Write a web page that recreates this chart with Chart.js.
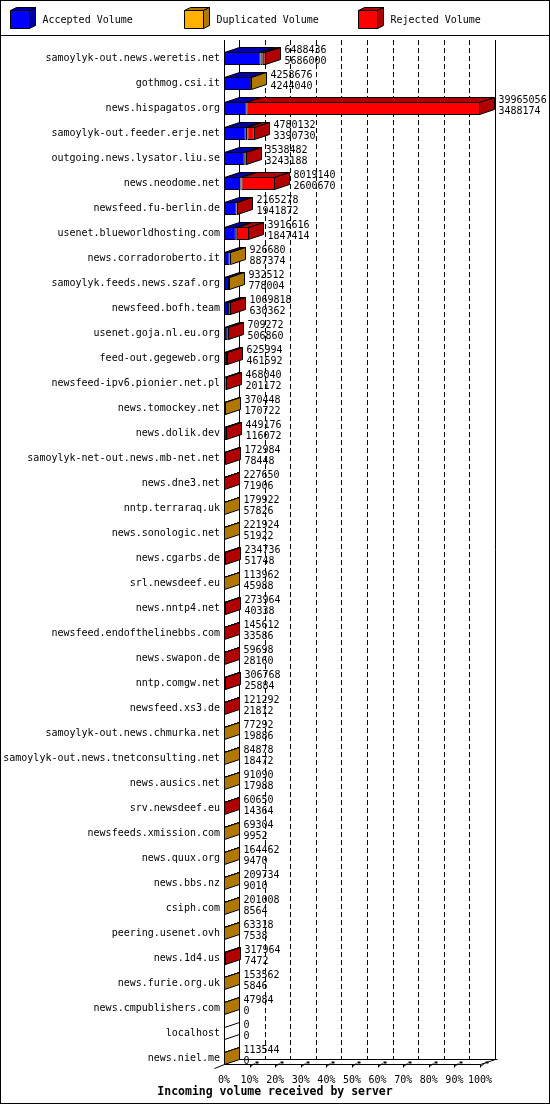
<!DOCTYPE html>
<html>
<head>
<meta charset="utf-8">
<title>Incoming volume received by server</title>
<script src="https://cdn.jsdelivr.net/npm/chart.js@4.4.1/dist/chart.umd.min.js"></script>
<style>
  html, body { margin: 0; padding: 0; background: #fff; }
  canvas { display: block; }
</style>
</head>
<body>
<canvas id="volume-chart" width="550" height="1105"></canvas>
<script>
// one row per feeding server, sorted by accepted volume
var servers = [
	'samoylyk-out.news.weretis.net', 'gothmog.csi.it', 'news.hispagatos.org',
	'samoylyk-out.feeder.erje.net', 'outgoing.news.lysator.liu.se', 'news.neodome.net',
	'newsfeed.fu-berlin.de', 'usenet.blueworldhosting.com', 'news.corradoroberto.it',
	'samoylyk.feeds.news.szaf.org', 'newsfeed.bofh.team', 'usenet.goja.nl.eu.org',
	'feed-out.gegeweb.org', 'newsfeed-ipv6.pionier.net.pl', 'news.tomockey.net',
	'news.dolik.dev', 'samoylyk-net-out.news.mb-net.net', 'news.dne3.net',
	'nntp.terraraq.uk', 'news.sonologic.net', 'news.cgarbs.de',
	'srl.newsdeef.eu', 'news.nntp4.net', 'newsfeed.endofthelinebbs.com',
	'news.swapon.de', 'nntp.comgw.net', 'newsfeed.xs3.de',
	'samoylyk-out.news.chmurka.net', 'samoylyk-out.news.tnetconsulting.net', 'news.ausics.net',
	'srv.newsdeef.eu', 'newsfeeds.xmission.com', 'news.quux.org',
	'news.bbs.nz', 'csiph.com', 'peering.usenet.ovh',
	'news.1d4.us', 'news.furie.org.uk', 'news.cmpublishers.com',
	'localhost', 'news.niel.me'
];

var totalVolume = [
	6488436, 4258676, 39965056, 4780132, 3538482, 8019140, 2165278, 3916616, 926680,
	932512, 1069818, 709272, 625994, 468040, 370448, 449176, 172984, 227650,
	179922, 221924, 234736, 113962, 273964, 145612, 59698, 306768, 121292,
	77292, 84878, 91090, 60650, 69304, 164462, 209734, 201008, 63318,
	317964, 153562, 47984, 0, 113544
];

var acceptedVolume = [
	5686000, 4244040, 3488174, 3390730, 3243188, 2600670, 1941872, 1847414, 887374,
	778004, 630362, 506860, 461592, 201172, 170722, 116072, 78448, 71906,
	57826, 51922, 51748, 45988, 40338, 33586, 28160, 25884, 21812,
	19886, 18472, 17988, 14364, 9952, 9470, 9010, 8564, 7538,
	7472, 5846, 0, 0, 0
];

// split of the remainder
var duplicatedVolume = [
	360000, 14636, 0, 260000, 150000, 130000, 0, 150000, 39306,
	154508, 0, 0, 0, 0, 199726, 0, 0, 0,
	122096, 170002, 0, 67974, 0, 0, 0, 0, 0,
	57406, 66406, 73102, 0, 59352, 154992, 200724, 192444, 55780,
	0, 147716, 47984, 0, 113544
];

var rejectedVolume = [
	442436, 0, 36476882, 1129402, 145294, 5288470, 223406, 1919202, 0,
	0, 439456, 202412, 164402, 266868, 0, 333104, 94536, 155744,
	0, 0, 182988, 0, 233626, 112026, 31538, 280884, 99480,
	0, 0, 0, 46286, 0, 0, 0, 0, 0,
	310492, 0, 0, 0, 0
];

var percentTicks = [0, 10, 20, 30, 40, 50, 60, 70, 80, 90, 100];

var seriesNames = ['Accepted Volume', 'Duplicated Volume', 'Rejected Volume'];
var frontColors = ['#0000ff', '#ffb000', '#ff0000'];
var shadeColors = ['#0000a8', '#b07800', '#b00000'];
var chartTitle = 'Incoming volume received by server';

var depthX = 15, depthY = 5;
var maxVolume = Math.max.apply(null, totalVolume);
var monoFont = '"DejaVu Sans Mono", monospace';

function polygon(ctx, pts, fill) {
	ctx.beginPath();
	ctx.moveTo(pts[0][0], pts[0][1]);
	for (var i = 1; i < pts.length; i++) ctx.lineTo(pts[i][0], pts[i][1]);
	ctx.closePath();
	if (fill) {
		ctx.fillStyle = fill;
		ctx.fill();
	}
	ctx.stroke();
}

function line(ctx, x1, y1, x2, y2) {
	ctx.beginPath();
	ctx.moveTo(x1, y1);
	ctx.lineTo(x2, y2);
	ctx.stroke();
}

function drawCube(ctx, x, y, w, h, dx, dy, front, shade) {
	polygon(ctx, [[x, y], [x + w, y], [x + w + dx, y - dy], [x + dx, y - dy]], shade);
	polygon(ctx, [[x + w, y], [x + w + dx, y - dy], [x + w + dx, y + h - dy], [x + w, y + h]], shade);
	polygon(ctx, [[x, y], [x + w, y], [x + w, y + h], [x, y + h]], front);
}

var bars3d = {
	id: 'bars3d',

	beforeDraw: function (chart) {
		var ctx = chart.ctx;
		ctx.save();
		ctx.fillStyle = '#fff';
		ctx.fillRect(0, 0, chart.width, chart.height);
		ctx.strokeStyle = '#000';
		ctx.lineWidth = 1;
		ctx.strokeRect(0.5, 0.5, chart.width - 1, chart.height - 2);
		line(ctx, 0, 35.5, chart.width, 35.5);

		// legend with little cubes
		var legendX = [10.5, 184.5, 358.5];
		ctx.font = '10px ' + monoFont;
		ctx.textBaseline = 'middle';
		chart.data.datasets.forEach(function (ds, i) {
			drawCube(ctx, legendX[i], 10.5, 19, 18, 6, 3, ds.backgroundColor, shadeColors[i]);
			ctx.fillStyle = '#000';
			ctx.fillText(ds.label, legendX[i] + 32, 20);
		});

		// axis title, centred on the whole picture
		ctx.font = 'bold 11.5px ' + monoFont;
		ctx.textAlign = 'center';
		ctx.fillText(chartTitle, chart.width / 2, 1092);
		ctx.restore();
	},

	beforeDatasetsDraw: function (chart) {
		var ctx = chart.ctx;
		var a = chart.chartArea;
		var xs = chart.scales.x;
		var left = Math.round(a.left) + 0.5, right = Math.round(a.right) + 0.5;
		var top = Math.round(a.top) - depthY - 1;
		var floorY = Math.round(a.bottom) - 7 + 0.5;

		ctx.save();
		ctx.strokeStyle = '#000';
		ctx.lineWidth = 1;

		// walls
		line(ctx, left, top, left, floorY);
		line(ctx, left + depthX, top, left + depthX, floorY - depthY);
		line(ctx, right + depthX, top, right + depthX, floorY - depthY);

		// dashed grid on the back wall
		ctx.setLineDash([5, 3]);
		percentTicks.forEach(function (p) {
			if (p === 0 || p === 100) return;
			var x = Math.round(xs.getPixelForValue(p * maxVolume / 100)) + 0.5 + depthX;
			line(ctx, x, top, x, floorY - depthY);
		});
		ctx.setLineDash([]);

		// floor
		line(ctx, left - 10, floorY + 4, left, floorY);
		line(ctx, left, floorY, right, floorY);
		line(ctx, right, floorY, right + depthX, floorY - depthY);
		line(ctx, left + depthX, floorY - depthY, right + depthX + 2, floorY - depthY);

		// 3d tick marks
		percentTicks.forEach(function (p) {
			if (p === 0) return;
			var x = Math.round(xs.getPixelForValue(p * maxVolume / 100)) + 0.5;
			line(ctx, x, floorY, x, floorY + 3);
			line(ctx, x, floorY + 2, x + 4, floorY - 1);
			ctx.fillStyle = '#000';
			ctx.fillRect(x + 5, floorY - 3, 3, 2);
		});
		ctx.restore();
	},

	afterDatasetsDraw: function (chart) {
		var ctx = chart.ctx;
		var zeroX = Math.round(chart.scales.x.getPixelForValue(0)) + 0.5;
		var first = chart.getDatasetMeta(0);

		ctx.save();
		ctx.strokeStyle = '#000';
		ctx.lineWidth = 1;
		ctx.font = '10px ' + monoFont;
		ctx.textBaseline = 'middle';
		ctx.textAlign = 'left';

		servers.forEach(function (name, i) {
			var el = first.data[i];
			var top = Math.round(el.y - el.height / 2) + 0.5;
			var bottom = Math.round(el.y + el.height / 2) - 0.5;
			var lastEnd = zeroX, lastShade = '#fff';

			chart.data.datasets.forEach(function (ds, d) {
				var bar = chart.getDatasetMeta(d).data[i];
				if (!(ds.data[i] > 0)) return;
				var x0 = Math.round(bar.base) + 0.5, x1 = Math.round(bar.x) - 0.5;
				if (x1 < x0) x1 = x0;
				polygon(ctx, [[x0, top], [x1, top], [x1 + depthX, top - depthY], [x0 + depthX, top - depthY]], shadeColors[d]);
				lastEnd = x1;
				lastShade = shadeColors[d];
			});

			polygon(ctx, [[lastEnd, top], [lastEnd + depthX, top - depthY],
				[lastEnd + depthX, bottom - depthY], [lastEnd, bottom]], lastShade);

			ctx.fillStyle = '#000';
			ctx.fillText(String(totalVolume[i]), lastEnd + depthX + 4, el.y - 8);
			ctx.fillText(String(acceptedVolume[i]), lastEnd + depthX + 4, el.y + 3);
		});
		ctx.restore();
	}
};

function makeDataset(idx, values) {
	return {
		label: seriesNames[idx],
		data: values,
		backgroundColor: frontColors[idx],
		borderColor: '#000',
		borderWidth: 1,
		borderSkipped: false,
		barPercentage: 0.52,
		categoryPercentage: 1
	};
}

new Chart('volume-chart', {
	type: 'bar',
	data: {
		labels: servers,
		datasets: [
			makeDataset(0, acceptedVolume),
			makeDataset(1, duplicatedVolume),
			makeDataset(2, rejectedVolume)
		]
	},
	options: {
		indexAxis: 'y',
		responsive: false,
		animation: false,
		devicePixelRatio: 1,
		layout: {
			padding: { top: 46, right: 70, bottom: 19, left: 0 }
		},
		scales: {
			x: {
				stacked: true,
				min: 0,
				max: maxVolume,
				grid: { display: false, drawTicks: false },
				border: { display: false },
				afterBuildTicks: function (scale) {
					scale.ticks = percentTicks.map(function (p) {
						return { value: p * maxVolume / 100 };
					});
				},
				afterFit: function (scale) {
					scale.height = 15;
				},
				ticks: {
					autoSkip: false,
					maxRotation: 0,
					padding: 3,
					color: '#000',
					font: { family: monoFont, size: 10 },
					callback: function (value, index) {
						return percentTicks[index] + '%';
					}
				}
			},
			y: {
				stacked: true,
				grid: { display: false, drawTicks: false },
				border: { display: false },
				afterFit: function (scale) {
					scale.width = 224;
				},
				ticks: {
					autoSkip: false,
					padding: 4,
					color: '#000',
					font: { family: monoFont, size: 10 }
				}
			}
		},
		plugins: {
			legend: { display: false },
			tooltip: { enabled: false },
			title: { display: false }
		}
	},
	plugins: [bars3d]
});
</script>
</body>
</html>
